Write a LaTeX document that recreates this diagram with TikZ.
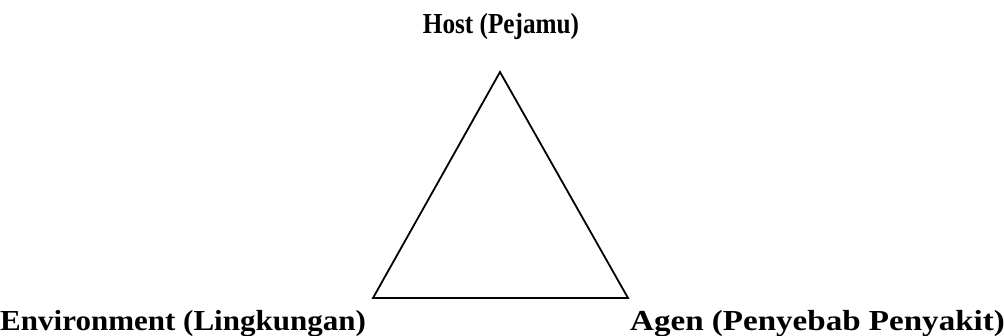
\documentclass[tikz,border=0pt]{standalone}
\usepackage{fontspec}
\usepackage{graphicx}
\setmainfont{Liberation Serif}
\begin{document}
\begin{tikzpicture}[x=1pt,y=-1pt,
  lbl/.style={inner sep=0pt,font=\fontsize{29}{32}\selectfont\bfseries},
  edge/.style={line width=1.8pt,line join=miter}]
\useasboundingbox (0,0) rectangle (1004,335);
\coordinate (H) at (500,72);
\coordinate (E) at (373,298);
\coordinate (A) at (628,298);
\draw[edge] (H) -- (E) -- (A) -- cycle;
\node[lbl,anchor=base] (host) at (501,33) {\scalebox{0.87}[1]{Host (Pejamu)}};
\node[lbl,anchor=base west] (env) at (0,330) {\scalebox{1.07}[1]{Environment (Lingkungan)}};
\node[lbl,anchor=base west] (agen) at (630,330) {\scalebox{1.14}[1]{Agen (Penyebab Penyakit)}};
\end{tikzpicture}
\end{document}
